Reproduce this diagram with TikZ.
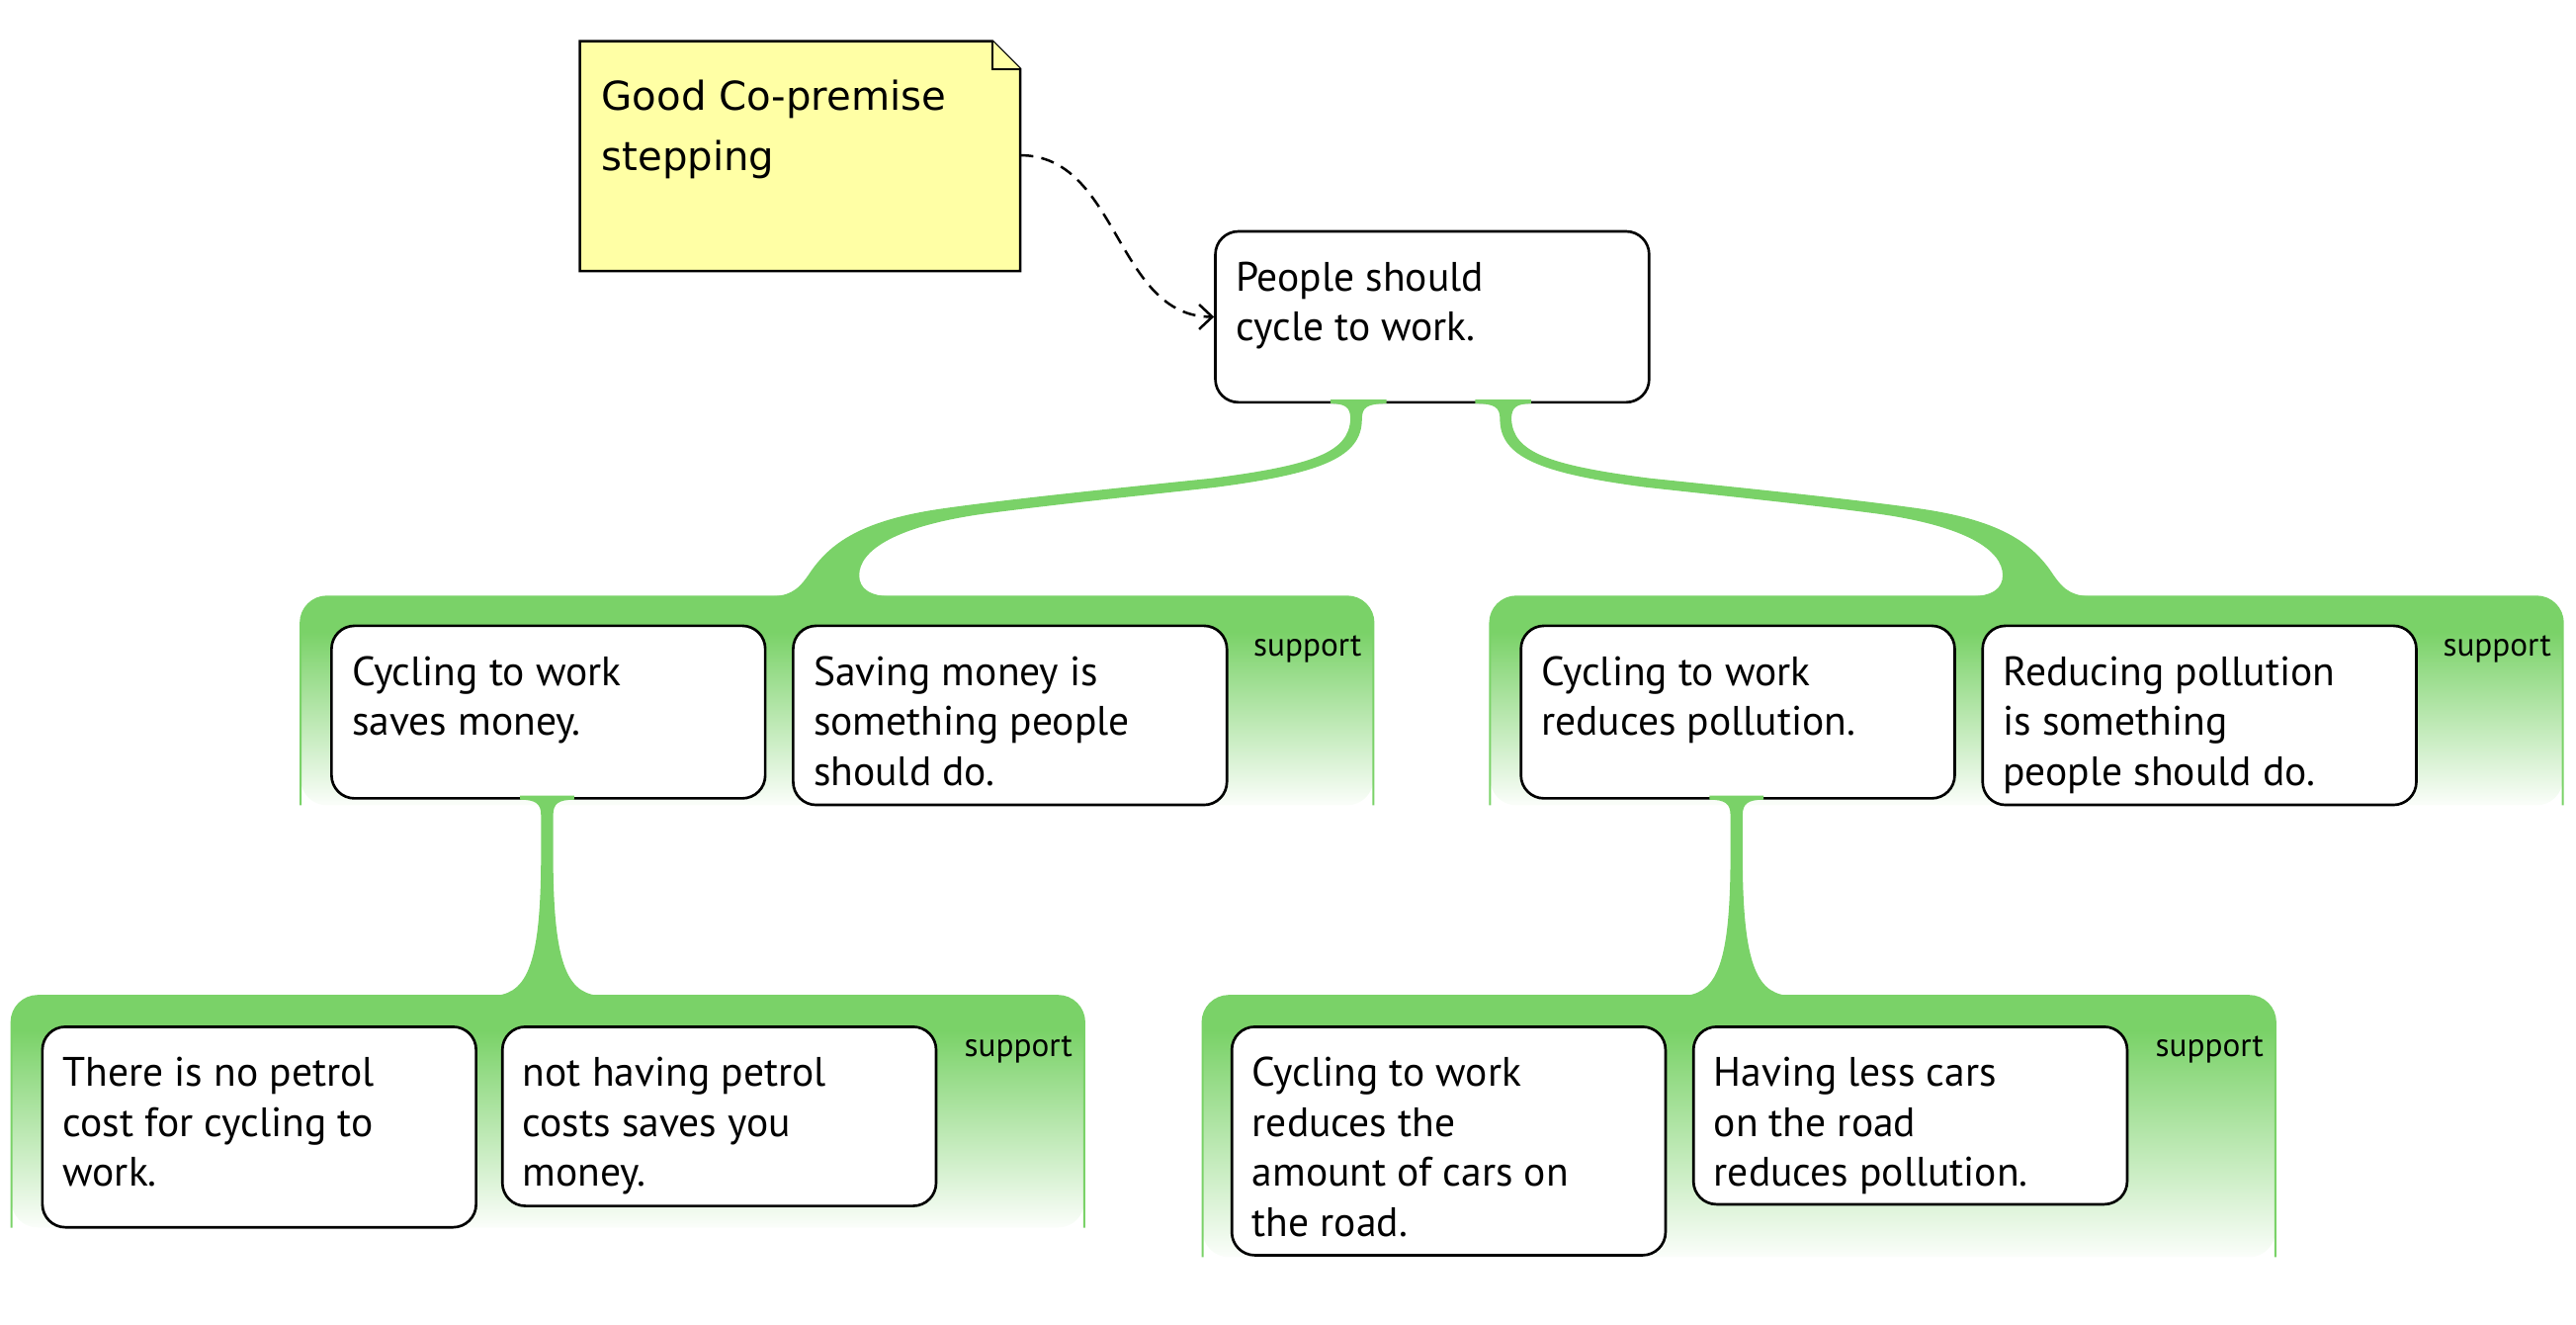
\documentclass[tikz,border=0pt]{standalone}
\usepackage{fontspec}
\setmainfont{PT Sans}
\newfontfamily\notefont{DejaVu Sans}
\usetikzlibrary{arrows.meta}
\definecolor{grn}{RGB}{122,210,104}
\definecolor{noteyellow}{RGB}{255,255,165}
\newcommand\boxtxt[1]{\parbox[t]{250pt}{\fontsize{25}{30.5}\selectfont\raggedright #1}}
\newcommand\notetxt[1]{\parbox[t]{250pt}{\notefont\fontsize{24.2}{37}\selectfont\raggedright #1}}
% container: x1, x2, top, bottom
\newcommand\grpbox[4]{%
  \begin{scope}
    \clip[rounded corners=16pt] (#1,#4) -- (#1,#3) -- (#2,#3) -- (#2,#4) -- cycle;
    \fill[grn] (#1,#3) rectangle (#2,#3+22);
    \shade[top color=grn, bottom color=grn!3!white] (#1,#3+21.5) rectangle (#2,#4);
  \end{scope}
  \draw[grpline] (#1,#4) -- (#1,#3) -- (#2,#3) -- (#2,#4);
}
\begin{document}
\begin{tikzpicture}[x=1pt,y=-1pt,
  claim/.style={draw=black, line width=1.6pt, fill=white, rounded corners=14pt,
    inner sep=0pt, minimum width=264pt, anchor=north west},
  txt/.style={anchor=base west, inner sep=0pt},
  sup/.style={anchor=base east, inner sep=0pt, font=\fontsize{20}{24}\selectfont},
  grpline/.style={draw=grn, line width=1.2pt, rounded corners=16pt},
  conn/.style={fill=grn, draw=none},
  notebox/.style={draw=black, line width=1.5pt, fill=noteyellow, line join=miter},
  dasharrow/.style={draw=black, line width=1.5pt, dash pattern=on 8pt off 5pt,
    -{Straight Barb[length=8pt, width=15pt, line width=1.5pt]}}
]
\useasboundingbox (0,0) rectangle (1568,806);

% ---------- containers ----------
\grpbox{183}{836}{363}{490}
\grpbox{907}{1560}{363}{490}
\grpbox{7}{660}{606}{747}
\grpbox{732}{1385}{606}{765}

% ---------- note ----------
\draw[notebox] (353,25) -- (604,25) -- (621,42) -- (621,165) -- (353,165) -- cycle;
\draw[notebox] (604,25) -- (604,42) -- (621,42);
\node[txt] (note) at (366,67) {\notetxt{Good Co-premise\\stepping}};
\coordinate (noteR) at (621,94.5);

% ---------- claims ----------
\node[claim, minimum height=104pt] (main) at (739,140) {};
\node[txt] (maint) at (752,177) {\boxtxt{People should\\cycle to work.}};

\node[claim, minimum height=105pt] (a) at (201,380) {};
\node[txt] (at) at (214,417) {\boxtxt{Cycling to work\\saves money.}};
\node[claim, minimum height=109pt] (b) at (482,380) {};
\node[txt] (bt) at (495,417) {\boxtxt{Saving money is\\something people\\should do.}};

\node[claim, minimum height=105pt] (c) at (925,380) {};
\node[txt] (ct) at (938,417) {\boxtxt{Cycling to work\\reduces pollution.}};
\node[claim, minimum height=109pt] (d) at (1206,380) {};
\node[txt] (dt) at (1219,417) {\boxtxt{Reducing pollution\\is something\\people should do.}};

\node[claim, minimum height=122pt] (e) at (25,624) {};
\node[txt] (et) at (38,661) {\boxtxt{There is no petrol\\cost for cycling to\\work.}};
\node[claim, minimum height=109pt] (f) at (305,624) {};
\node[txt] (ft) at (318,661) {\boxtxt{not having petrol\\costs saves you\\money.}};

\node[claim, minimum height=139pt] (g) at (749,624) {};
\node[txt] (gt) at (762,661) {\boxtxt{Cycling to work\\reduces the\\amount of cars on\\the road.}};
\node[claim, minimum height=108pt] (h) at (1030,624) {};
\node[txt] (ht) at (1043,661) {\boxtxt{Having less cars\\on the road\\reduces pollution.}};

% ---------- support labels ----------
\node[sup] (s1) at (829,399) {support};
\node[sup] (s2) at (1553,399) {support};
\node[sup] (s3) at (653,643) {support};
\node[sup] (s4) at (1378,643) {support};

% ---------- green connectors ----------
\foreach \sx/\sc in {0/1, 1742/-1}{
\begin{scope}[xshift=\sx pt, xscale=\sc]
\fill[conn] (810,243.1) -- (810,245.6)
  .. controls (819,245.6) and (822,248) .. (822,255)
  .. controls (821,275) and (800,283) .. (738,291)
  .. controls (690,296) and (620,303) .. (577,309)
  .. controls (525,316) and (505,330) .. (492,350)
  .. controls (485,360) and (480,363) .. (466,363)
  -- (466,366) -- (544,366) -- (544,363)
  .. controls (529,363) and (523,358) .. (523,350)
  .. controls (523,335) and (545,320) .. (600,312.5)
  .. controls (650,306) and (700,301) .. (740,296.5)
  .. controls (805,288) and (829,278) .. (829,255)
  .. controls (829,248) and (832,245.6) .. (844,245.6)
  -- (844,243.1) -- cycle;
\end{scope}}

\foreach \sx in {0, 724}{
\begin{scope}[xshift=\sx pt]
\fill[conn] (316.5,484.1) -- (316.5,486.6)
  .. controls (326,486.6) and (329.3,489) .. (329.3,496)
  -- (329.3,520) .. controls (329.3,590) and (320,606) .. (298,606)
  -- (298,609) -- (368,609) -- (368,606)
  .. controls (346,606) and (336.7,590) .. (336.7,520)
  -- (336.7,496) .. controls (336.7,489) and (340,486.6) .. (349.5,486.6)
  -- (349.5,484.1) -- cycle;
\end{scope}}

% ---------- dashed arrow ----------
\draw[dasharrow] (noteR) to[out=0, in=180] (main.west);
\end{tikzpicture}
\end{document}
